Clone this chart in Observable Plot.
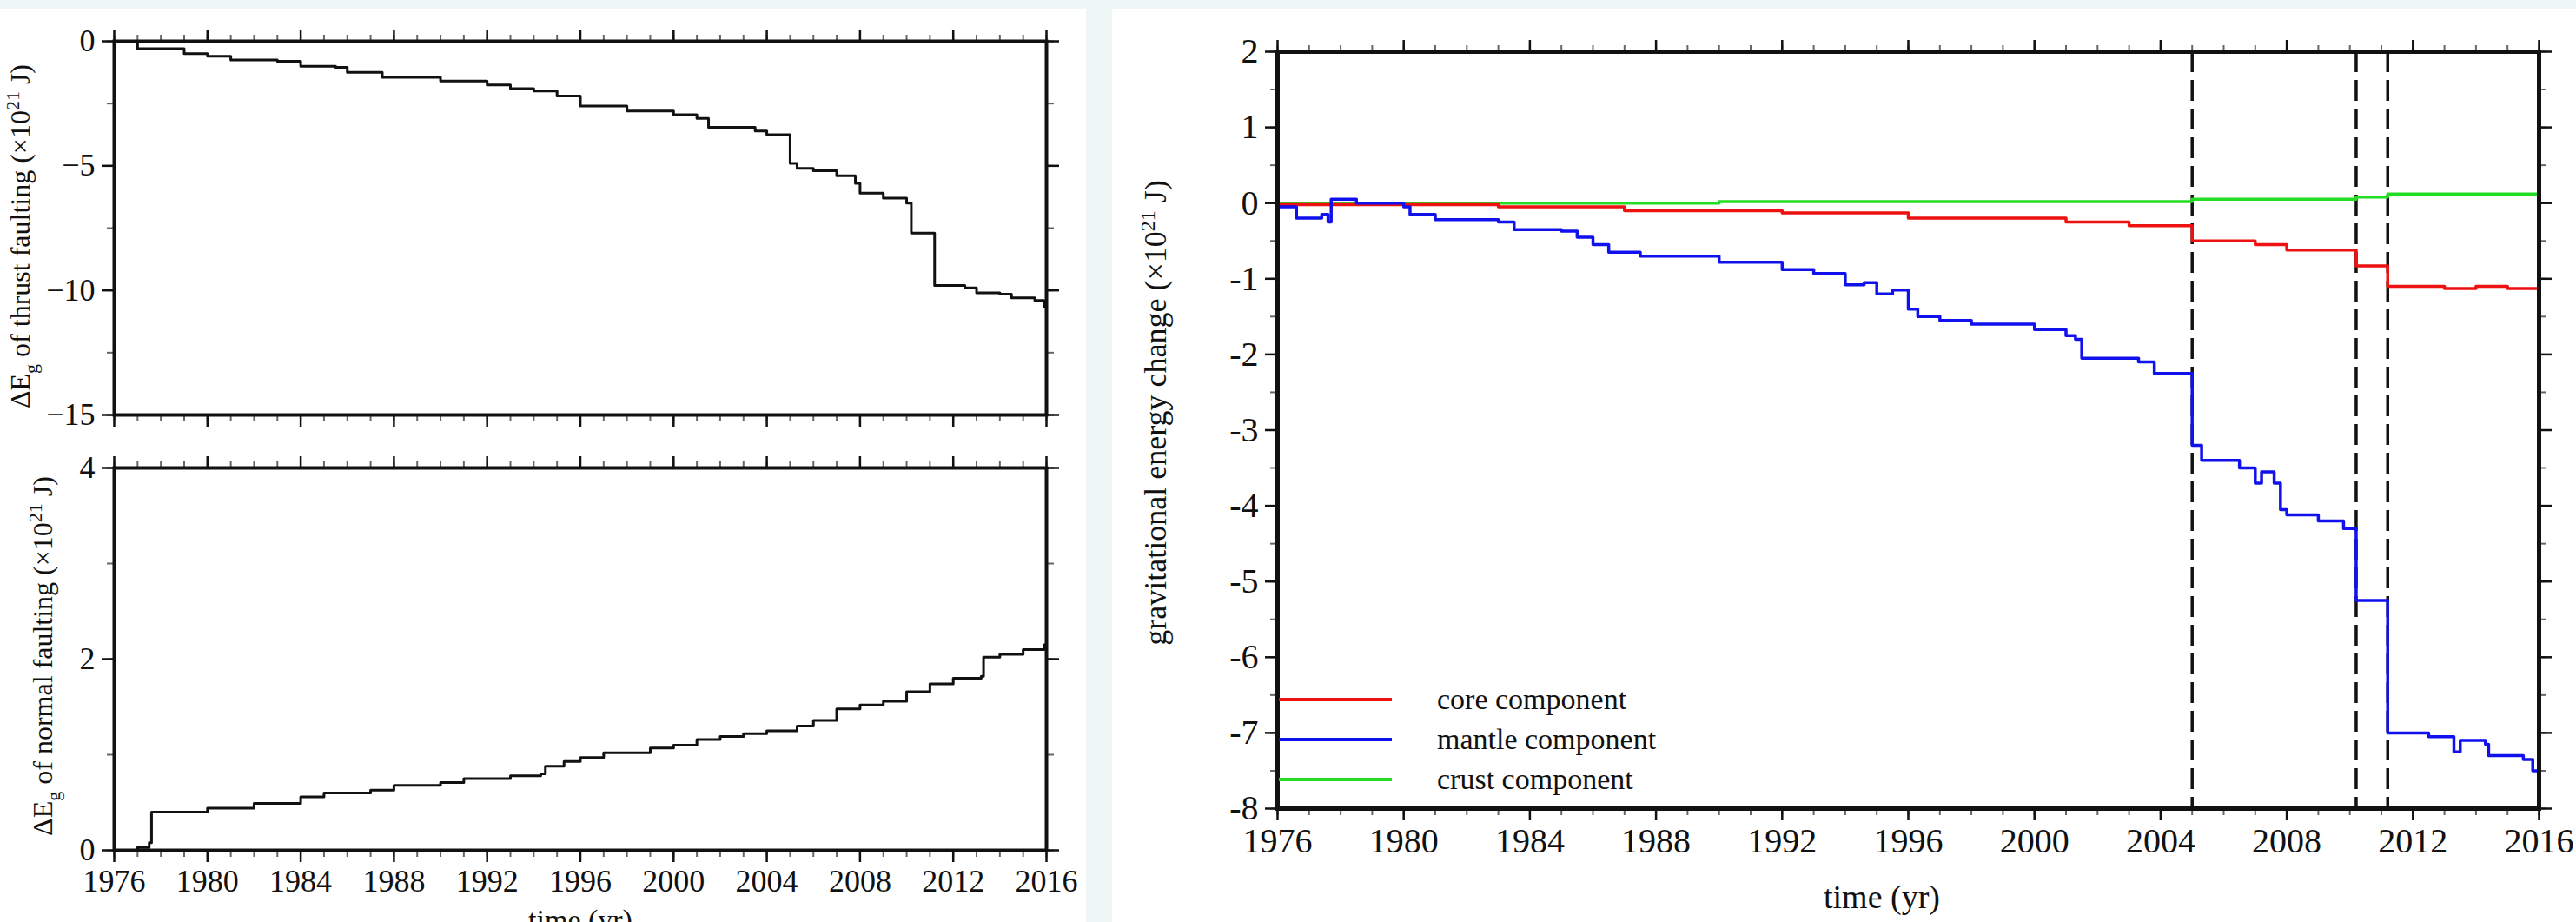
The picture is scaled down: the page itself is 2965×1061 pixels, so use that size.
<!DOCTYPE html>
<html><head><meta charset="utf-8">
<script src="https://cdn.jsdelivr.net/npm/d3@7"></script>
<script src="https://cdn.jsdelivr.net/npm/@observablehq/plot@0.6"></script>
<style>
body{margin:0;background:#eef6f6;width:2965px;height:1061px;overflow:hidden;font-family:"Liberation Serif",serif;}
.panel{position:absolute;background:#fff;}
.leg{position:absolute;font:34px "Liberation Serif",serif;color:#111;}
.leg div{height:46px;display:flex;align-items:center}
.leg span{display:inline-block;width:130px;height:4px;margin-right:52px}
</style></head><body>
<div class="panel" id="L" style="left:0;top:10px;width:1250px;height:1051px"></div>
<div class="panel" id="R" style="left:1280px;top:10px;width:1685px;height:1051px"></div>
<script>
const thrustYears = [1976,1977,1979,1980,1981,1983,1984,1985.5,1986,1987.5,1990,1992,1993,1994,1995,1996,1998,2000,2001,2001.5,2003.5,2004,2005,2005.3,2006,2007,2007.8,2008,2009,2010,2010.2,2011.2,2012.5,2013,2014,2014.5,2015.5,2015.9,2016];
const thrustVals  = [0,-0.3,-0.5,-0.6,-0.75,-0.8,-1.0,-1.05,-1.25,-1.45,-1.6,-1.75,-1.9,-2.0,-2.2,-2.6,-2.8,-2.95,-3.1,-3.45,-3.6,-3.75,-4.9,-5.1,-5.2,-5.4,-5.7,-6.1,-6.3,-6.5,-7.7,-9.8,-9.9,-10.1,-10.15,-10.3,-10.4,-10.65,-10.65];
const normalYears = [1976,1977,1977.5,1977.6,1980,1982,1984,1985,1987,1988,1990,1991,1993,1994.3,1994.5,1995.3,1996,1997,1999,2000,2001,2002,2003,2004,2005.3,2006,2007,2008,2009,2010,2011,2012,2013.2,2013.3,2014,2015,2015.9,2016];
const normalVals  = [0,0.03,0.08,0.4,0.44,0.49,0.56,0.6,0.63,0.68,0.71,0.75,0.78,0.8,0.88,0.93,0.97,1.02,1.07,1.1,1.16,1.19,1.22,1.25,1.3,1.36,1.48,1.52,1.56,1.66,1.74,1.8,1.82,2.02,2.05,2.1,2.15,2.15];
const coreYears = [1976,1983,1987,1992,1996,2001,2003,2005,2007,2008,2010.2,2011.2,2013,2014,2015,2016];
const coreVals  = [-0.02,-0.05,-0.1,-0.13,-0.2,-0.25,-0.3,-0.5,-0.55,-0.62,-0.83,-1.1,-1.13,-1.1,-1.13,-1.17];
const mantleYears = [1976,1976.6,1977.4,1977.6,1977.7,1978.5,1980,1980.2,1981,1983,1983.5,1985,1985.5,1986,1986.5,1987.5,1990,1992,1993,1994,1994.6,1995,1995.5,1996,1996.3,1997,1998,2000,2001,2001.3,2001.5,2003.3,2003.8,2005,2005.3,2006.5,2007,2007.2,2007.6,2007.8,2008,2009,2009.8,2010.2,2011.2,2012.5,2013.3,2013.5,2014.3,2014.4,2015.5,2015.8,2016];
const mantleVals  = [-0.05,-0.2,-0.15,-0.25,0.05,0.0,-0.05,-0.15,-0.22,-0.25,-0.35,-0.37,-0.45,-0.55,-0.65,-0.7,-0.78,-0.88,-0.93,-1.08,-1.05,-1.2,-1.15,-1.4,-1.5,-1.55,-1.6,-1.67,-1.75,-1.8,-2.05,-2.1,-2.25,-3.2,-3.4,-3.5,-3.7,-3.55,-3.7,-4.05,-4.12,-4.2,-4.3,-5.25,-7.0,-7.05,-7.25,-7.1,-7.15,-7.3,-7.35,-7.5,-7.5];
const crustYears = [1976,1990,2005,2010.2,2011.2,2016];
const crustVals  = [0,0.02,0.05,0.08,0.12,0.13];
const eventYears = [2005, 2010.2, 2011.2];
const xMajor = d3.range(1976, 2017, 4);
const xMinor = d3.range(1976, 2017, 1);

const pts = (xs, ys) => xs.map((x, i) => ({x, y: ys[i]}));
const blank = () => "";

function boxAxes(yMajor, yMinor, showX, fmt) {
  const m = [];
  for (const a of ["bottom", "top"]) {
    m.push(Plot.axisX(xMinor, {anchor: a, label: null, tickSize: 8, tickFormat: blank, stroke: "#666", strokeWidth: 2}));
    m.push(Plot.axisX(xMajor, {anchor: a, label: null, tickSize: 14, strokeWidth: 2.5,
      tickFormat: (a === "bottom" && showX) ? d => String(d) : blank, tickPadding: 8}));
  }
  for (const a of ["left", "right"]) {
    m.push(Plot.axisY(yMinor, {anchor: a, label: null, tickSize: 8, tickFormat: blank, stroke: "#666", strokeWidth: 2}));
    m.push(Plot.axisY(yMajor, {anchor: a, label: null, tickSize: 14, strokeWidth: 2.5,
      tickFormat: a === "left" ? fmt : blank, tickPadding: 8}));
  }
  return m;
}

function addLabel(svg, x, y, parts, size, sub) {
  const t = d3.select(svg).append("text")
    .attr("transform", `translate(${x},${y}) rotate(-90)`)
    .attr("text-anchor", "middle").attr("font-size", size).attr("fill", "#111")
    .attr("font-family", "Liberation Serif, serif");
  parts.forEach(([s, dy, small]) => t.append("tspan").text(s).attr("dy", dy).attr("font-size", small ? sub : size));
}

const common = {style: {fontFamily: "Liberation Serif, serif", fontSize: "36px", color: "#111", background: "transparent"}};

const p1 = Plot.plot({
  ...common, width: 1250, height: 490, marginLeft: 131, marginRight: 46, marginTop: 37, marginBottom: 23,
  x: {domain: [1976, 2016], axis: null}, y: {domain: [-15, 0], axis: null},
  marks: [
    ...boxAxes([0, -5, -10, -15], d3.range(-15, 0.1, 2.5), false, d => String(d).replace("-", "−")),
    Plot.line(pts(thrustYears, thrustVals), {x: "x", y: "y", curve: "step-after", stroke: "#111", strokeWidth: 3}),
    Plot.frame({stroke: "#111", strokeWidth: 4})
  ]
});
addLabel(p1, 34, 262, [["ΔE", 0], ["g", 9, true], [" of thrust faulting (×10", -9], ["21", -12, true], [" J)", 12]], 32, 22);
p1.style.position = "absolute"; p1.style.left = "0px"; p1.style.top = "0px";

const p2 = Plot.plot({
  ...common, width: 1250, height: 561, marginLeft: 131, marginRight: 46, marginTop: 38, marginBottom: 83,
  x: {domain: [1976, 2016], axis: null}, y: {domain: [0, 4], axis: null},
  marks: [
    ...boxAxes([0, 2, 4], d3.range(0, 4.1, 1), true, d => String(d)),
    Plot.line(pts(normalYears, normalVals), {x: "x", y: "y", curve: "step-after", stroke: "#111", strokeWidth: 3}),
    Plot.frame({stroke: "#111", strokeWidth: 4})
  ]
});
addLabel(p2, 60, 255, [["ΔE", 0], ["g", 9, true], [" of normal faulting (×10", -9], ["21", -12, true], [" J)", 12]], 32, 22);
d3.select(p2).append("text").attr("x", 668).attr("y", 570).attr("text-anchor", "middle")
  .attr("font-size", 34).attr("font-family", "Liberation Serif, serif").text("time (yr)");
p2.style.position = "absolute"; p2.style.left = "0px"; p2.style.top = "490px";

const p3 = Plot.plot({
  ...common, style: {...common.style, fontSize: "40px"},
  width: 1685, height: 1051, marginLeft: 190, marginRight: 43, marginTop: 49, marginBottom: 131,
  x: {domain: [1976, 2016], axis: null}, y: {domain: [-8, 2], axis: null},
  marks: [
    ...boxAxes(d3.range(-8, 2.1, 1), d3.range(-8, 2.1, 0.5), true, d => String(d)),
    Plot.ruleX(eventYears, {stroke: "#111", strokeWidth: 3.5, strokeDasharray: "24,9"}),
    Plot.line(pts(crustYears, crustVals), {x: "x", y: "y", curve: "step-after", stroke: "#22dd22", strokeWidth: 3.5}),
    Plot.line(pts(coreYears, coreVals), {x: "x", y: "y", curve: "step-after", stroke: "#ee1111", strokeWidth: 3.5}),
    Plot.line(pts(mantleYears, mantleVals), {x: "x", y: "y", curve: "step-after", stroke: "#1111ee", strokeWidth: 3.5}),
    Plot.frame({stroke: "#111", strokeWidth: 5})
  ]
});
addLabel(p3, 62, 465, [["gravitational energy change (×10", 0], ["21", -13, true], [" J)", 13]], 36, 24);
d3.select(p3).append("text").attr("x", 886).attr("y", 1035).attr("text-anchor", "middle")
  .attr("font-size", 38).attr("font-family", "Liberation Serif, serif").text("time (yr)");
p3.style.position = "absolute"; p3.style.left = "0px"; p3.style.top = "0px";

document.getElementById("L").append(p1, p2);
const R = document.getElementById("R");
R.append(p3);
const leg = document.createElement("div");
leg.className = "leg"; leg.style.left = "192px"; leg.style.top = "772px";
[["core component", "#ee1111"], ["mantle component", "#1111ee"], ["crust component", "#22dd22"]].forEach(([t, c]) => {
  const d = document.createElement("div");
  d.innerHTML = `<span style="background:${c}"></span>${t}`;
  leg.append(d);
});
R.append(leg);
</script></body></html>
